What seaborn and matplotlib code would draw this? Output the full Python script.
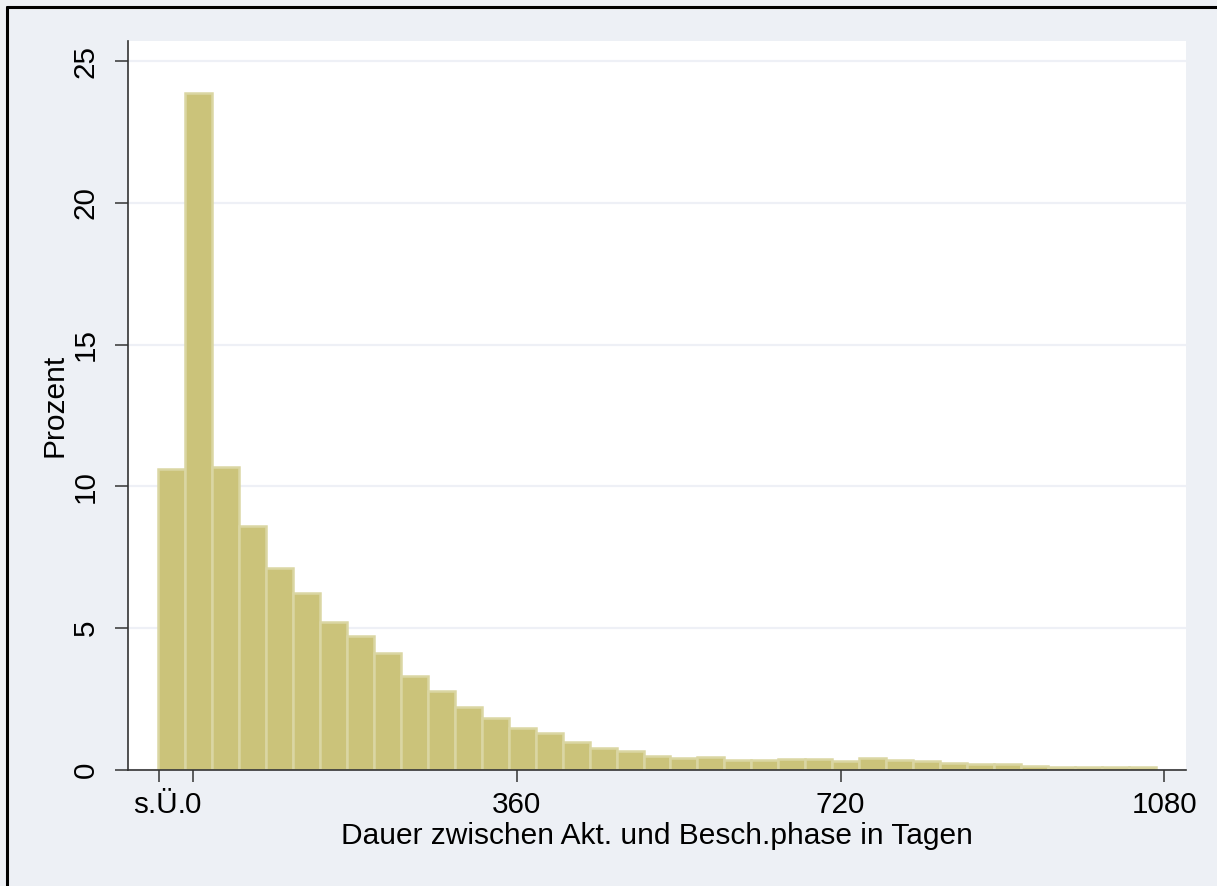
import numpy as np
import pandas as pd
import seaborn as sns
import matplotlib
matplotlib.use("Agg")
import matplotlib.pyplot as plt
from matplotlib.lines import Line2D

# histogram: 30-day bins, first bin holds the "s.Ü." cases
bin_start = -39
bin_width = 30
percent = [10.63, 23.89, 10.70, 8.59, 7.11, 6.24, 5.23, 4.74, 4.11, 3.31,
           2.77, 2.23, 1.85, 1.47, 1.32, 1.00, 0.78, 0.67, 0.50, 0.41,
           0.46, 0.35, 0.36, 0.40, 0.40, 0.31, 0.41, 0.35, 0.31, 0.25,
           0.21, 0.21, 0.15, 0.10, 0.10, 0.10, 0.10]
xtick_pos = [-37, 0, 360, 720, 1080]
xtick_labels = ["s.Ü.", "0", "360", "720", "1080"]
ytick_pos = [0, 5, 10, 15, 20, 25]

edges = [bin_start + bin_width * i for i in range(len(percent) + 1)]
df = pd.DataFrame({"dauer": [e + bin_width / 2 for e in edges[:-1]], "prozent": percent})

sns.set_style("white")
plt.rcParams["font.family"] = ["Liberation Sans", "DejaVu Sans"]
plt.rcParams["text.color"] = "black"
plt.rcParams["axes.labelcolor"] = "black"
plt.rcParams["xtick.color"] = "black"
plt.rcParams["ytick.color"] = "black"

bg = "#EDF0F5"
fig = plt.figure(figsize=(12.17, 8.86), dpi=100, facecolor=bg)
ax = fig.add_axes([128 / 1217, 1 - 770 / 886, (1186 - 128) / 1217, (770 - 40.7) / 886])
ax.set_facecolor("white")

sns.histplot(data=df, x="dauer", weights="prozent", bins=edges, ax=ax,
             color="#CBC37A", edgecolor="#DAD6A3", linewidth=1.8, alpha=1)

ax.set_xlim(-72, 1104)
ax.set_ylim(0, 25.72)
ax.set_xticks(xtick_pos)
ax.set_xticklabels(xtick_labels)
ax.set_yticks(ytick_pos)
ax.yaxis.grid(True, color="#EEF0F6", linewidth=1.6)
ax.set_axisbelow(True)

for s in ["top", "right"]:
    ax.spines[s].set_visible(False)
for s in ["left", "bottom"]:
    ax.spines[s].set_color("#333333")
    ax.spines[s].set_linewidth(1.2)

ax.tick_params(axis="x", direction="out", length=8.5, width=1.1, color="#333333",
               labelcolor="black", labelsize=21.3, pad=6.5, bottom=True)
ax.tick_params(axis="y", direction="out", length=9.4, width=1.1, color="#333333",
               labelcolor="black", labelsize=21.3, pad=11, left=True, labelrotation=90)
for lab in ax.get_yticklabels():
    lab.set_va("center")

ax.set_xlabel("Dauer zwischen Akt. und Besch.phase in Tagen", fontsize=21.5,
              labelpad=2, color="black")
ax.set_ylabel("Prozent", fontsize=21.5, labelpad=2.5, color="black")

# thin black frame along top and left edge
fig.add_artist(Line2D([7 / 1217, 1], [1 - 7 / 886, 1 - 7 / 886], color="black", linewidth=2.2))
fig.add_artist(Line2D([7 / 1217, 7 / 1217], [0, 1 - 7 / 886], color="black", linewidth=2.2))

fig.savefig("out.png", dpi=100, facecolor=bg)
